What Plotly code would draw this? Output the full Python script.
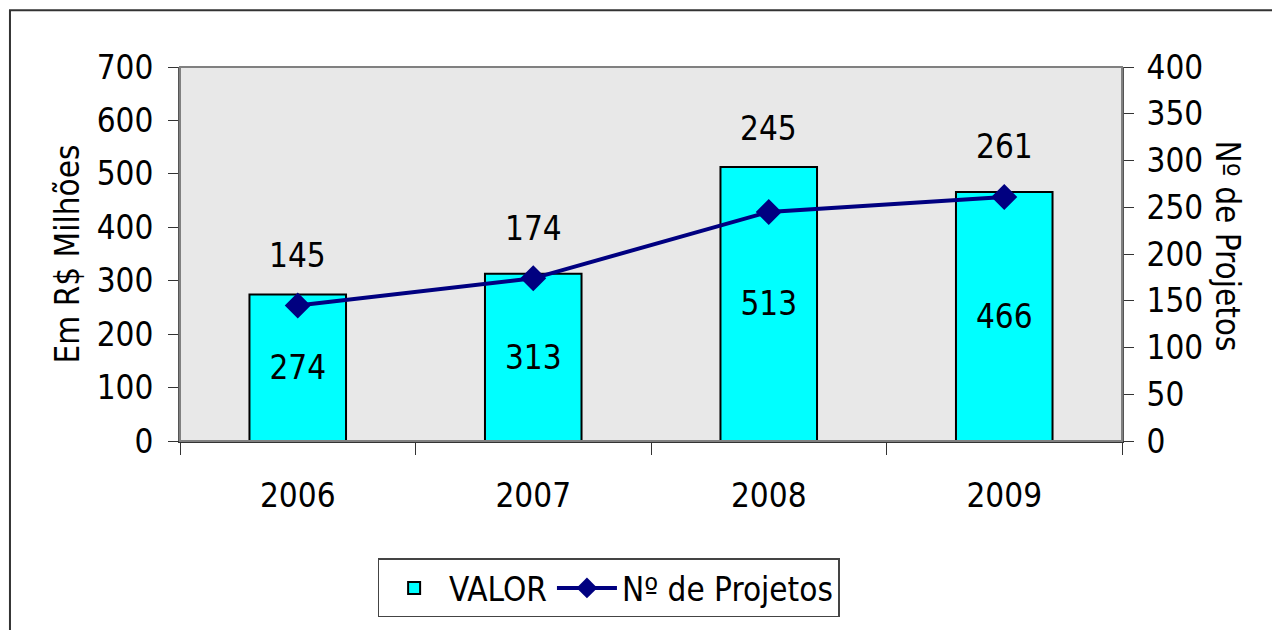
import plotly.graph_objects as go

years = ["2006", "2007", "2008", "2009"]
valor = [274, 313, 513, 466]
projetos = [145, 174, 245, 261]
left_ticks = [0, 100, 200, 300, 400, 500, 600, 700]
right_ticks = [0, 50, 100, 150, 200, 250, 300, 350, 400]

FONT = "DejaVu Sans Condensed, DejaVu Sans, Verdana, sans-serif"
FS = 33
W, H = 1272, 630
M = dict(l=180, r=150, t=67, b=187)
PLOT_H = H - M["t"] - M["b"]
Y1_MAX, Y2_MAX = 700, 400

fig = go.Figure()
fig.add_trace(go.Bar(
    x=years, y=valor, name="VALOR",
    marker=dict(color="#00FFFF", line=dict(color="black", width=2)),
    width=0.41,
    text=[str(v) for v in valor], textposition="inside",
    insidetextanchor="middle",
    textfont=dict(color="black", size=FS, family=FONT),
    cliponaxis=False,
))
fig.add_trace(go.Scatter(
    x=years, y=projetos, name="Nº de Projetos", yaxis="y2",
    mode="lines+markers",
    line=dict(color="#000080", width=4),
    marker=dict(symbol="diamond", size=20, color="#000080"),
    cliponaxis=False,
))

# labels above the line points, lifted above the bar top when they would overlap it
for i, (bv, pv) in enumerate(zip(valor, projetos)):
    bar_px = bv / Y1_MAX * PLOT_H
    pt_px = pv / Y2_MAX * PLOT_H
    shift = max(50, bar_px - pt_px + 38)
    fig.add_annotation(x=i, y=pv, xref="x", yref="y2", text=str(pv),
                       showarrow=False, yshift=shift,
                       font=dict(size=FS, color="black", family=FONT))

fig.add_annotation(x=1.1125, y=0.52, xref="paper", yref="paper",
                   xanchor="center", yanchor="middle",
                   text="Nº de Projetos", textangle=90, showarrow=False,
                   font=dict(size=FS, color="black", family=FONT))

# plot area border
fig.add_shape(type="rect", xref="paper", yref="paper", x0=0, x1=1, y0=0, y1=1,
              line=dict(color="#808080", width=2), layer="above")
# outer chart border
fig.add_shape(type="rect", xref="paper", yref="paper",
              x0=-0.1805, x1=1.3, y0=-0.7, y1=1.1516,
              line=dict(color="#333333", width=2), layer="above")

axis_font = dict(size=FS, color="black", family=FONT)
fig.update_layout(
    width=W, height=H,
    margin=M,
    paper_bgcolor="white", plot_bgcolor="#e8e8e8",
    font=dict(family=FONT, size=FS, color="black"),
    showlegend=True,
    legend=dict(orientation="h", x=0.455, xanchor="center", y=-0.314, yanchor="top",
                bordercolor="#444444", borderwidth=1.5, bgcolor="white",
                font=dict(size=FS, color="black", family=FONT),
                itemwidth=60, tracegroupgap=0),
    xaxis=dict(type="category", tickson="boundaries", ticks="outside", ticklen=12,
               tickcolor="#333", tickwidth=1, showline=True, linecolor="#333",
               linewidth=2, showgrid=False, tickfont=axis_font,
               ticklabelstandoff=24, range=[-0.5, 3.5]),
    xaxis2=dict(overlaying="x", anchor="y", side="bottom", range=[-0.5, 3.5],
                tickvals=[0.5, 1.5, 2.5], ticks="inside", ticklen=12,
                tickcolor="#333", showticklabels=False, showgrid=False,
                zeroline=False, showline=False),
    yaxis=dict(range=[0, Y1_MAX], tickvals=left_ticks, ticks="outside", ticklen=10,
               tickcolor="#333", showline=True, linecolor="#555", linewidth=2,
               showgrid=False, zeroline=False, tickfont=axis_font,
               ticklabelstandoff=8,
               title=dict(text="Em R$ Milhões", font=axis_font, standoff=7)),
    yaxis2=dict(range=[0, Y2_MAX], tickvals=right_ticks, overlaying="y", side="right",
                ticks="outside", ticklen=10, tickcolor="#333", showline=True,
                linecolor="#555", linewidth=2, showgrid=False, zeroline=False,
                tickfont=axis_font, ticklabelstandoff=6),
    yaxis3=dict(range=[0, Y1_MAX], tickvals=left_ticks, overlaying="y", side="left",
                anchor="x", ticks="inside", ticklen=10, tickcolor="#333",
                showticklabels=False, showgrid=False, zeroline=False, showline=False),
    yaxis4=dict(range=[0, Y2_MAX], tickvals=right_ticks, overlaying="y", side="right",
                anchor="x", ticks="inside", ticklen=10, tickcolor="#333",
                showticklabels=False, showgrid=False, zeroline=False, showline=False),
)

fig.write_html("out.html", config={"displayModeBar": False},
               post_script="document.body.style.margin='0';document.body.style.padding='0';")
